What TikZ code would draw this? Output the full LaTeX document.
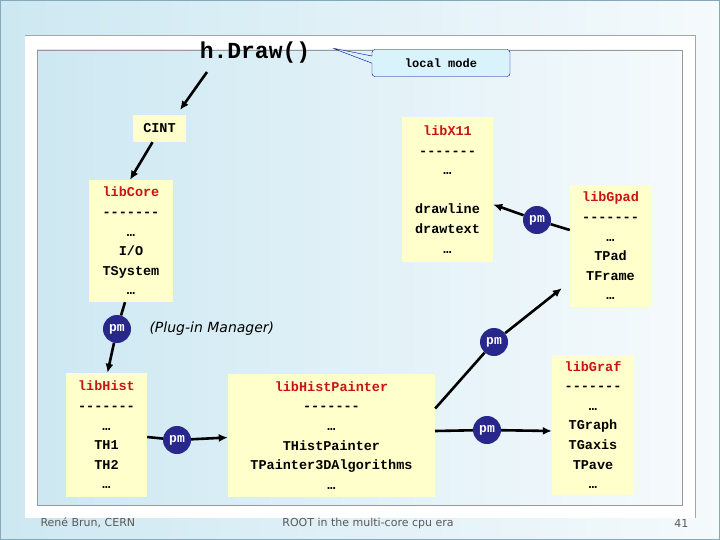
\documentclass[tikz,border=0pt]{standalone}
\usepackage{fontspec}
\setmainfont{Liberation Serif}
\newfontfamily\mono{Liberation Mono}
\newfontfamily\sans{DejaVu Sans}
\usetikzlibrary{shapes.callouts,arrows.meta}
\definecolor{libred}{RGB}{200,20,20}
\definecolor{boxy}{RGB}{255,255,204}
\definecolor{pmblue}{RGB}{40,40,140}
\definecolor{panelL}{RGB}{205,232,242}
\definecolor{panelR}{RGB}{245,250,252}
\begin{document}
\begin{tikzpicture}[x=1pt,y=-1pt,
  lib/.style={fill=boxy,draw=none,align=center,inner sep=0pt,font=\mono\bfseries\fontsize{13.5}{19.6}\selectfont},
  pm/.style={circle,fill=pmblue,text=white,minimum size=28pt,inner sep=0pt,font=\mono\bfseries\fontsize{13}{13}\selectfont},
  arr/.style={line width=2.6pt,-{Latex[length=9pt,width=8pt]}},
  ln/.style={line width=2.6pt},
  foot/.style={font=\sans\fontsize{11}{11}\selectfont,text=black!65}]
\useasboundingbox (0,0) rectangle (720,540);
\shade[left color=panelL,right color=panelR] (0,0) rectangle (720,540);
\draw[cyan!50!black!60,line width=1pt] (0.5,0.5) rectangle (719.5,539.5);
\fill[white] (25,35) rectangle (695,518);
\draw[black!35] (25,35) -- (695,35) -- (695,518);
\shade[left color=panelL,right color=panelR] (37,50) rectangle (682,505);
\draw[black!40] (37,50) rectangle (682,505);
\node[font=\mono\bfseries\fontsize{23}{23}\selectfont] (hdraw) at (255,53) {h.Draw()};
\node[rectangle callout,rounded corners=3pt,draw=blue!60!black,fill=cyan!15,minimum width=138pt,minimum height=27pt,
  callout absolute pointer={(332,48)},font=\mono\bfseries\fontsize{12}{12}\selectfont] (local) at (441,63) {local mode};
\node[lib,minimum width=53pt,minimum height=27pt] (cint) at (159.5,128.5) {CINT};
\node[lib,minimum width=84pt,minimum height=122pt] (core) at (131,241) {\textcolor{libred}{libCore}\\-------\\…\\I/O\\TSystem\\…};
\node[lib,minimum width=91pt,minimum height=145pt] (x11) at (447.5,189.5) {\textcolor{libred}{libX11}\\-------\\…\\[19.6pt]drawline\\drawtext\\…};
\node[lib,minimum width=81pt,minimum height=122pt] (gpad) at (610.5,246) {\textcolor{libred}{libGpad}\\-------\\…\\TPad\\TFrame\\…};
\node[lib,minimum width=81pt,minimum height=124pt] (hist) at (106.5,435) {\textcolor{libred}{libHist}\\-------\\…\\TH1\\TH2\\…};
\node[lib,minimum width=207pt,minimum height=123pt] (hp) at (331.5,435.5) {\textcolor{libred}{libHistPainter}\\-------\\…\\THistPainter\\TPainter3DAlgorithms\\…};
\node[lib,minimum width=82pt,minimum height=140pt] (graf) at (593,425) {\textcolor{libred}{libGraf}\\-------\\…\\TGraph\\TGaxis\\TPave\\…};
\node[pm] (pm1) at (537,220) {pm};
\node[pm] (pm2) at (117,329) {pm};
\node[pm] (pm3) at (177,440) {pm};
\node[pm] (pm4) at (494,342) {pm};
\node[pm] (pm5) at (487,430) {pm};
\node[font=\sans\itshape\fontsize{14}{14}\selectfont,anchor=west] (plug) at (146,329) {(Plug-in Manager)};
\coordinate (c1) at (207,72); \coordinate (c2) at (180,110);
\draw[arr] (c1) -- (c2);
\draw[arr] ([xshift=-7pt]cint.south) -- ([xshift=-1pt]core.north);
\draw[ln] ([xshift=-6pt]core.south) -- (pm2);
\draw[arr] (pm2) -- ([xshift=1pt]hist.north);
\draw[ln] ([yshift=-2pt]hist.east) -- (pm3);
\draw[arr] (pm3) -- ([yshift=-2pt]hp.west);
\draw[ln] ([yshift=16pt]gpad.west) -- (pm1);
\draw[arr] (pm1) -- ([yshift=-15pt]x11.east);
\draw[ln] ([yshift=27pt]hp.east) -- (pm4);
\draw[arr] (pm4) -- ([xshift=-8pt,yshift=19pt]gpad.south west);
\draw[ln] ([yshift=4.5pt]hp.east) -- (pm5);
\draw[arr] (pm5) -- ([yshift=-6pt]graf.west);
\node[foot,anchor=west] (f1) at (37,523) {René Brun, CERN};
\node[foot] (f2) at (368,523) {ROOT in the multi-core cpu era};
\node[foot,anchor=east] (f3) at (692,523) {41};
\end{tikzpicture}
\end{document}
